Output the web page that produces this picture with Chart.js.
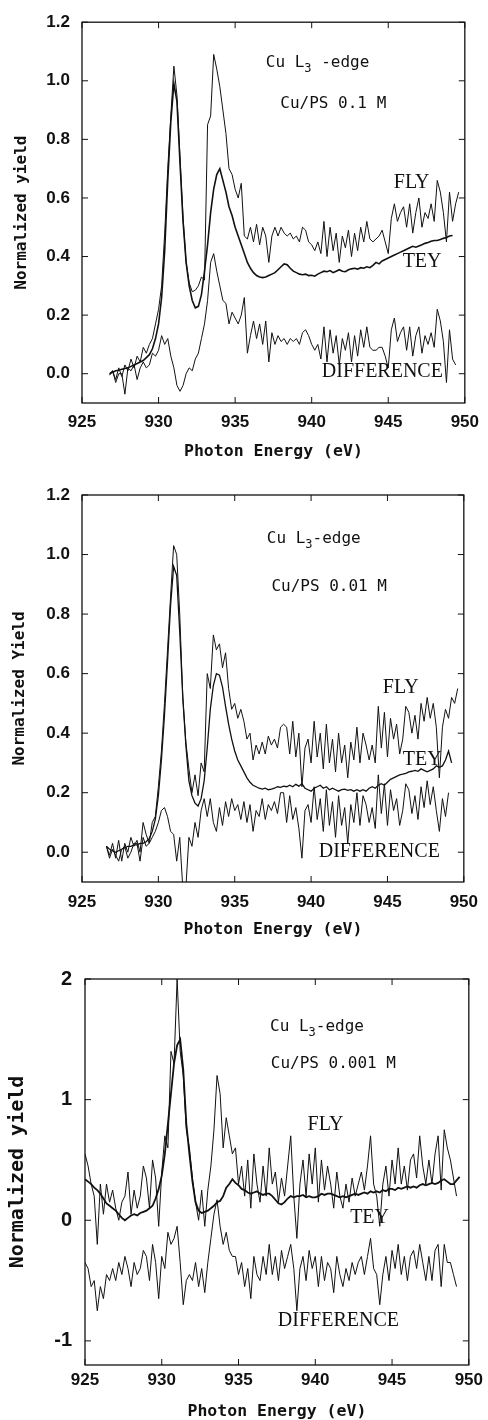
<!DOCTYPE html>
<html>
<head>
<meta charset="utf-8">
<script src="https://cdn.jsdelivr.net/npm/chart.js@4.4.1/dist/chart.umd.min.js"></script>
<style>
  body { margin: 0; background: #fff; }
  .panel { position: absolute; left: 0; width: 488px; }
</style>
</head>
<body>
<div class="panel" style="top:0;height:470px"><canvas id="c1" width="488" height="470"></canvas></div>
<div class="panel" style="top:470px;height:470px"><canvas id="c2" width="488" height="470"></canvas></div>
<div class="panel" style="top:940px;height:480px"><canvas id="c3" width="488" height="480"></canvas></div>
<script>
// ---- panel 1: Cu/PS 0.1 M ----
const energy1 = [
  926.8, 927.0, 927.2, 927.4, 927.6, 927.8, 928.0, 928.2, 928.4, 928.6,
  928.8, 929.0, 929.2, 929.4, 929.6, 929.8, 930.0, 930.2, 930.4, 930.6,
  930.8, 931.0, 931.2, 931.4, 931.6, 931.8, 932.0, 932.2, 932.4, 932.6,
  932.8, 933.0, 933.2, 933.4, 933.6, 933.8, 934.0, 934.2, 934.4, 934.6,
  934.8, 935.0, 935.2, 935.4, 935.6, 935.8, 936.0, 936.2, 936.4, 936.6,
  936.8, 937.0, 937.2, 937.4, 937.6, 937.8, 938.0, 938.2, 938.4, 938.6,
  938.8, 939.0, 939.2, 939.4, 939.6, 939.8, 940.0, 940.2, 940.4, 940.6,
  940.8, 941.0, 941.2, 941.4, 941.6, 941.8, 942.0, 942.2, 942.4, 942.6,
  942.8, 943.0, 943.2, 943.4, 943.6, 943.8, 944.0, 944.2, 944.4, 944.6,
  944.8, 945.0, 945.2, 945.4, 945.6, 945.8, 946.0, 946.2, 946.4, 946.6,
  946.8, 947.0, 947.2, 947.4, 947.6, 947.8, 948.0, 948.2, 948.4, 948.6,
  948.8, 949.0, 949.2, 949.4, 949.6
];
const fly1 = [
  -0.005, 0.01, -0.02, 0.02, -0.01, 0.03, 0.01, 0.05, 0.02, 0.06,
  0.04, 0.09, 0.07, 0.10, 0.12, 0.17, 0.22, 0.30, 0.48, 0.70,
  0.88, 1.05, 0.95, 0.74, 0.53, 0.38, 0.31, 0.28, 0.285, 0.30,
  0.33, 0.32, 0.85, 0.88, 1.09, 1.04, 0.98, 0.90, 0.82, 0.70,
  0.68, 0.63, 0.60, 0.65, 0.47, 0.46, 0.50, 0.45, 0.51, 0.44,
  0.50, 0.47, 0.38, 0.47, 0.50, 0.47, 0.50, 0.48, 0.47, 0.48,
  0.46, 0.47, 0.45, 0.50, 0.49, 0.45, 0.44, 0.42, 0.45, 0.41,
  0.52, 0.40, 0.50, 0.42, 0.48, 0.38, 0.47, 0.43, 0.49, 0.40,
  0.48, 0.42, 0.50, 0.45, 0.52, 0.46, 0.45, 0.46, 0.47, 0.49,
  0.45, 0.41, 0.53, 0.58, 0.52, 0.55, 0.57, 0.50, 0.58, 0.48,
  0.55, 0.60, 0.50, 0.55, 0.53, 0.58, 0.52, 0.66, 0.62, 0.55,
  0.45, 0.62, 0.52, 0.58, 0.62
];
const tey1 = [
  0.0, 0.005, 0.01, 0.012, 0.015, 0.018, 0.02, 0.025, 0.03, 0.035,
  0.04, 0.045, 0.055, 0.065, 0.085, 0.12, 0.17, 0.26, 0.42, 0.66,
  0.86, 0.99, 0.93, 0.72, 0.52, 0.38, 0.30, 0.25, 0.225, 0.23,
  0.27, 0.35, 0.44, 0.55, 0.63, 0.68, 0.70, 0.66, 0.62, 0.57,
  0.54, 0.50, 0.47, 0.44, 0.41, 0.38, 0.36, 0.345, 0.335, 0.33,
  0.328, 0.33, 0.335, 0.34, 0.345, 0.355, 0.365, 0.375, 0.372, 0.36,
  0.35, 0.345, 0.34, 0.338, 0.34, 0.335, 0.336, 0.333, 0.34, 0.345,
  0.35, 0.348, 0.352, 0.345, 0.35, 0.355, 0.35, 0.348, 0.355, 0.358,
  0.36, 0.357, 0.362, 0.36, 0.365, 0.362, 0.37, 0.38, 0.375, 0.385,
  0.39, 0.395, 0.40, 0.405, 0.41, 0.415, 0.42, 0.425, 0.43, 0.435,
  0.432, 0.436, 0.44, 0.445, 0.448, 0.452, 0.455, 0.455, 0.458, 0.462,
  0.465, 0.47, 0.472, null, null
];
const diff1 = [
  0.0, 0.01, -0.03, 0.0, 0.0, -0.07, 0.02, 0.01, 0.03, -0.02,
  0.02, 0.04, 0.02, 0.03, 0.07, 0.06, 0.08, 0.13, 0.10, 0.12,
  0.06, 0.02, -0.04, -0.06, -0.04, 0.00, 0.02, 0.01, 0.05, 0.07,
  0.12, 0.17, 0.25, 0.38, 0.41, 0.35, 0.30, 0.25, 0.24, 0.17,
  0.21, 0.19, 0.17, 0.20, 0.26, 0.07, 0.13, 0.18, 0.12, 0.17,
  0.10, 0.18, 0.04, 0.14, 0.10, 0.13, 0.11, 0.12, 0.10, 0.12,
  0.11, 0.12, 0.10, 0.14, 0.15, 0.13, 0.10, 0.08, 0.10, 0.05,
  0.16, 0.04, 0.15, 0.07, 0.13, 0.03, 0.12, 0.08, 0.14, 0.04,
  0.13, 0.06, 0.15, 0.09, 0.16, 0.09, 0.08, 0.08, 0.09, 0.09,
  0.06, 0.02, 0.15, 0.19, 0.11, 0.14, 0.16, 0.08, 0.16, 0.06,
  0.13, 0.16, 0.07, 0.13, 0.10, 0.14, 0.09, 0.22, 0.18, 0.11,
  -0.03, 0.15, 0.05, 0.03, null
];

// ---- panel 2: Cu/PS 0.01 M ----
const energy2 = [
  926.6, 926.8, 927.0, 927.2, 927.4, 927.6, 927.8, 928.0, 928.2, 928.4,
  928.6, 928.8, 929.0, 929.2, 929.4, 929.6, 929.8, 930.0, 930.2, 930.4,
  930.6, 930.8, 931.0, 931.2, 931.4, 931.6, 931.8, 932.0, 932.2, 932.4,
  932.6, 932.8, 933.0, 933.2, 933.4, 933.6, 933.8, 934.0, 934.2, 934.4,
  934.6, 934.8, 935.0, 935.2, 935.4, 935.6, 935.8, 936.0, 936.2, 936.4,
  936.6, 936.8, 937.0, 937.2, 937.4, 937.6, 937.8, 938.0, 938.2, 938.4,
  938.6, 938.8, 939.0, 939.2, 939.4, 939.6, 939.8, 940.0, 940.2, 940.4,
  940.6, 940.8, 941.0, 941.2, 941.4, 941.6, 941.8, 942.0, 942.2, 942.4,
  942.6, 942.8, 943.0, 943.2, 943.4, 943.6, 943.8, 944.0, 944.2, 944.4,
  944.6, 944.8, 945.0, 945.2, 945.4, 945.6, 945.8, 946.0, 946.2, 946.4,
  946.6, 946.8, 947.0, 947.2, 947.4, 947.6, 947.8, 948.0, 948.2, 948.4,
  948.6, 948.8, 949.0, 949.2, 949.4, 949.6
];
const fly2 = [
  0.02, -0.01, 0.03, -0.02, 0.04, -0.03, 0.03, 0.0, 0.05, 0.02,
  0.04, 0.0, 0.10, 0.06, 0.03, 0.10, 0.12, 0.22, 0.34, 0.50,
  0.68, 0.86, 1.03, 1.00, 0.80, 0.52, 0.37, 0.28, 0.20, 0.26,
  0.19, 0.30, 0.27, 0.60, 0.55, 0.73, 0.68, 0.70, 0.62, 0.67,
  0.55, 0.48, 0.50, 0.45, 0.48, 0.44, 0.38, 0.40, 0.31, 0.36,
  0.33, 0.37, 0.33, 0.39, 0.36, 0.38, 0.35, 0.42, 0.43, 0.42,
  0.33, 0.44, 0.32, 0.40, 0.22, 0.35, 0.38, 0.30, 0.44, 0.32,
  0.40, 0.28, 0.43, 0.30, 0.38, 0.27, 0.40, 0.30, 0.36, 0.25,
  0.37, 0.31, 0.42, 0.30, 0.40, 0.36, 0.31, 0.36, 0.30, 0.49,
  0.35, 0.47, 0.32, 0.45, 0.38, 0.43, 0.33, 0.38, 0.49, 0.47,
  0.40, 0.46, 0.38, 0.50, 0.44, 0.52, 0.45, 0.50, 0.42, 0.25,
  0.42, 0.48, 0.45, 0.52, 0.50, 0.55
];
const tey2 = [
  0.02, 0.01, 0.005, 0.0, 0.005, 0.01, 0.015, 0.02, 0.02, 0.025,
  0.025, 0.03, 0.03, 0.035, 0.045, 0.07, 0.11, 0.19, 0.31, 0.46,
  0.64, 0.83, 0.96, 0.93, 0.74, 0.52, 0.36, 0.24, 0.19, 0.165,
  0.155, 0.18, 0.24, 0.35, 0.48, 0.56, 0.60, 0.595, 0.555, 0.49,
  0.43, 0.38, 0.34, 0.31, 0.29, 0.27, 0.25, 0.235, 0.225, 0.22,
  0.215, 0.212, 0.215, 0.21, 0.212, 0.215, 0.22, 0.218, 0.222, 0.22,
  0.225, 0.22, 0.228, 0.222, 0.23, 0.215, 0.21, 0.205, 0.215, 0.22,
  0.225, 0.215, 0.22, 0.21, 0.215, 0.21, 0.205, 0.21, 0.212, 0.208,
  0.21, 0.205, 0.21, 0.205, 0.21, 0.205, 0.215, 0.22, 0.215, 0.225,
  0.23, 0.225, 0.235, 0.245, 0.25, 0.255, 0.26, 0.262, 0.265, 0.27,
  0.272, 0.275, 0.272, 0.28, 0.275, 0.27, 0.275, 0.28, 0.29, 0.285,
  0.29, 0.31, 0.34, 0.30, null, null
];
const diff2 = [
  0.02, -0.02, 0.01, -0.01, -0.03, 0.01, 0.02, -0.02, 0.0, 0.03,
  0.03, -0.03, 0.05, 0.02, 0.03, 0.05, 0.07, 0.10, 0.14, 0.15,
  0.12, 0.07, 0.06, -0.03, 0.05, -0.12, -0.12, 0.05, 0.02, 0.10,
  0.05, 0.14, 0.18, 0.12, 0.18, 0.10, 0.07, 0.15, 0.09, 0.17,
  0.12, 0.18, 0.14, 0.16, 0.11, 0.17, 0.10, 0.16, 0.07, 0.14,
  0.12, 0.18, 0.11, 0.16, 0.14, 0.17, 0.13, 0.20, 0.20, 0.10,
  0.19, 0.11, 0.15, 0.08, -0.02, 0.14, 0.16, 0.10, 0.22, 0.11,
  0.18, 0.07, 0.21, 0.09, 0.17, 0.05, 0.19, 0.09, 0.15, 0.03,
  0.16, 0.10, 0.20, 0.09, 0.19, 0.16, 0.10, 0.15, 0.08, 0.26,
  0.13, 0.23, 0.09, 0.21, 0.14, 0.18, 0.09, 0.14, 0.23, 0.21,
  0.13, 0.19, 0.11, 0.22, 0.15, 0.24, 0.16, 0.22, 0.14, 0.07,
  0.18, 0.12, 0.20, null, null, null
];

// ---- panel 3: Cu/PS 0.001 M ----
const energy3 = [
  925.0, 925.2, 925.4, 925.6, 925.8, 926.0, 926.2, 926.4, 926.6, 926.8,
  927.0, 927.2, 927.4, 927.6, 927.8, 928.0, 928.2, 928.4, 928.6, 928.8,
  929.0, 929.2, 929.4, 929.6, 929.8, 930.0, 930.2, 930.4, 930.6, 930.8,
  931.0, 931.2, 931.4, 931.6, 931.8, 932.0, 932.2, 932.4, 932.6, 932.8,
  933.0, 933.2, 933.4, 933.6, 933.8, 934.0, 934.2, 934.4, 934.6, 934.8,
  935.0, 935.2, 935.4, 935.6, 935.8, 936.0, 936.2, 936.4, 936.6, 936.8,
  937.0, 937.2, 937.4, 937.6, 937.8, 938.0, 938.2, 938.4, 938.6, 938.8,
  939.0, 939.2, 939.4, 939.6, 939.8, 940.0, 940.2, 940.4, 940.6, 940.8,
  941.0, 941.2, 941.4, 941.6, 941.8, 942.0, 942.2, 942.4, 942.6, 942.8,
  943.0, 943.2, 943.4, 943.6, 943.8, 944.0, 944.2, 944.4, 944.6, 944.8,
  945.0, 945.2, 945.4, 945.6, 945.8, 946.0, 946.2, 946.4, 946.6, 946.8,
  947.0, 947.2, 947.4, 947.6, 947.8, 948.0, 948.2, 948.4, 948.6, 948.8,
  949.0, 949.2, 949.4
];
const fly3 = [
  0.55, 0.45, 0.30, 0.20, -0.20, 0.30, 0.05, 0.30, 0.15, 0.25,
  0.10, 0.00, 0.15, 0.20, 0.40, 0.05, 0.25, 0.10, 0.20, 0.45,
  0.35, 0.10, 0.50, 0.35, -0.05, 0.40, 0.70, 0.60, 1.40, 1.30,
  2.00, 1.40, 1.20, 0.75, 0.60, 0.35, 0.15, 0.00, 0.25, -0.05,
  0.25, 0.45, 0.75, 1.20, 1.05, 0.60, 0.85, 0.70, 0.55, 0.60,
  0.30, 0.45, 0.20, 0.50, 0.10, 0.55, 0.30, 0.15, 0.45, 0.20,
  0.60, 0.30, 0.40, 0.15, 0.35, 0.20, 0.45, 0.70, 0.20, -0.15,
  0.30, 0.50, 0.20, 0.55, 0.30, 0.60, 0.15, 0.50, 0.25, 0.45,
  0.30, 0.10, 0.40, 0.20, 0.10, 0.30, 0.15, 0.35, 0.20, 0.30,
  0.40, 0.25, 0.45, 0.70, 0.30, 0.20, -0.05, 0.30, 0.45, 0.20,
  0.50, 0.30, 0.60, 0.30, 0.45, 0.25, 0.50, 0.55, 0.35, 0.70,
  0.45, 0.30, 0.50, 0.30, 0.55, 0.70, 0.25, 0.75, 0.60, 0.50,
  0.35, 0.20, null
];
const tey3 = [
  0.34, 0.32, 0.30, 0.27, 0.25, 0.22, 0.18, 0.14, 0.12, 0.10,
  0.08, 0.05, 0.02, 0.0, 0.02, 0.04, 0.05, 0.04, 0.06, 0.07,
  0.08, 0.10, 0.12, 0.18, 0.26, 0.37, 0.55, 0.80, 1.05, 1.30,
  1.45, 1.50, 1.25, 0.80, 0.55, 0.32, 0.15, 0.08, 0.06, 0.07,
  0.08, 0.10, 0.12, 0.15, 0.16, 0.20, 0.27, 0.30, 0.34, 0.31,
  0.29, 0.26, 0.25, 0.23, 0.22, 0.23, 0.24, 0.22, 0.21, 0.22,
  0.22, 0.20, 0.17, 0.14, 0.13, 0.15, 0.18, 0.20, 0.19, 0.20,
  0.20, 0.21, 0.19, 0.20, 0.19, 0.19, 0.20, 0.22, 0.21, 0.22,
  0.22, 0.21, 0.20, 0.19, 0.20, 0.19, 0.20, 0.21, 0.22, 0.21,
  0.22, 0.23, 0.22, 0.24, 0.23, 0.24, 0.23, 0.25, 0.24, 0.26,
  0.26, 0.25, 0.27, 0.26, 0.27, 0.28, 0.27, 0.28, 0.27, 0.29,
  0.30, 0.29, 0.30, 0.31, 0.30, 0.31, 0.33, 0.34, 0.32, 0.30,
  0.30, 0.33, 0.36
];
const diff3 = [
  -0.35, -0.40, -0.55, -0.50, -0.75, -0.55, -0.65, -0.45, -0.50, -0.40,
  -0.50, -0.35, -0.45, -0.30, -0.40, -0.55, -0.35, -0.45, -0.40, -0.25,
  -0.30, -0.50, -0.20, -0.35, -0.65, -0.30, -0.40, -0.10, -0.20, -0.15,
  -0.05, -0.35, -0.70, -0.50, -0.45, -0.50, -0.35, -0.55, -0.40, -0.60,
  -0.35, -0.15, 0.05, 0.17, -0.05, -0.20, -0.10, -0.25, -0.30, -0.30,
  -0.45, -0.35, -0.55, -0.40, -0.65, -0.30, -0.45, -0.50, -0.30, -0.45,
  -0.20, -0.45, -0.30, -0.50, -0.25, -0.40, -0.30, -0.20, -0.40, -0.75,
  -0.40, -0.30, -0.50, -0.25, -0.40, -0.30, -0.55, -0.30, -0.50, -0.35,
  -0.40, -0.60, -0.30, -0.45, -0.55, -0.40, -0.50, -0.35, -0.45, -0.35,
  -0.30, -0.45, -0.30, -0.15, -0.40, -0.45, -0.70, -0.45, -0.30, -0.50,
  -0.25, -0.40, -0.20, -0.45, -0.30, -0.50, -0.30, -0.25, -0.40, -0.20,
  -0.35, -0.50, -0.30, -0.50, -0.25, -0.20, -0.55, -0.20, -0.35, -0.35,
  -0.45, -0.55, null
];

// text placed in data coordinates
const notes1 = [
  { text: 'Cu L', sub: '3', rest: ' -edge', x: 937.0, y: 1.062 },
  { text: 'Cu/PS 0.1 M', x: 937.95, y: 0.921 },
  { text: 'FLY', x: 945.36, y: 0.652, serif: true },
  { text: 'TEY', x: 945.94, y: 0.383, serif: true },
  { text: 'DIFFERENCE', x: 940.66, y: 0.007, serif: true }
];
const notes2 = [
  { text: 'Cu L', sub: '3', rest: '-edge', x: 937.1, y: 1.054 },
  { text: 'Cu/PS 0.01 M', x: 937.4, y: 0.892 },
  { text: 'FLY', x: 944.7, y: 0.553, serif: true },
  { text: 'TEY', x: 946.0, y: 0.31, serif: true },
  { text: 'DIFFERENCE', x: 940.5, y: 0.0, serif: true }
];
const notes3 = [
  { text: 'Cu L', sub: '3', rest: '-edge', x: 937.05, y: 1.607 },
  { text: 'Cu/PS 0.001 M', x: 937.1, y: 1.30 },
  { text: 'FLY', x: 939.5, y: 0.79, serif: true },
  { text: 'TEY', x: 942.27, y: 0.02, serif: true },
  { text: 'DIFFERENCE', x: 937.56, y: -0.83, serif: true }
];

const INK = '#111';

function pts(xs, ys) {
  return xs.map((x, i) => ({ x: x, y: ys[i] }));
}

const framePlugin = {
  id: 'frame',
  afterDatasetsDraw(chart, args, opts) {
    const ctx = chart.ctx;
    const a = chart.chartArea;
    const xs = chart.scales.x, ys = chart.scales.y;
    ctx.save();
    ctx.strokeStyle = INK;
    ctx.lineWidth = 1.3;
    ctx.strokeRect(a.left, a.top, a.right - a.left, a.bottom - a.top);
    ctx.lineWidth = 1;
    ctx.beginPath();
    xs.ticks.forEach(t => {
      const px = xs.getPixelForValue(t.value);
      ctx.moveTo(px, a.bottom); ctx.lineTo(px, a.bottom - 6);
      ctx.moveTo(px, a.top); ctx.lineTo(px, a.top + 6);
    });
    ys.ticks.forEach(t => {
      const py = ys.getPixelForValue(t.value);
      ctx.moveTo(a.left, py); ctx.lineTo(a.left + 6, py);
      ctx.moveTo(a.right, py); ctx.lineTo(a.right - 6, py);
    });
    ctx.stroke();

    ctx.fillStyle = INK;
    ctx.textAlign = 'left';
    ctx.textBaseline = 'middle';
    const mono = '16px "DejaVu Sans Mono"';
    (opts.notes || []).forEach(n => {
      const px = xs.getPixelForValue(n.x);
      const py = ys.getPixelForValue(n.y);
      ctx.font = n.serif ? '20px "Liberation Serif"' : mono;
      ctx.fillText(n.text, px, py);
      if (n.sub) {
        let w = ctx.measureText(n.text).width;
        ctx.font = '12px "DejaVu Sans Mono"';
        ctx.fillText(n.sub, px + w, py + 6);
        w += ctx.measureText(n.sub).width;
        ctx.font = mono;
        ctx.fillText(n.rest, px + w, py);
      }
    });
    ctx.restore();
  }
};

function makeChart(id, p) {
  const tickFont = { family: 'Liberation Sans', weight: 'bold', size: p.tickSize };
  const ds = (label, ys, width) => ({
    label: label,
    data: pts(p.energy, ys),
    borderColor: INK,
    borderWidth: width,
    pointRadius: 0,
    tension: 0,
    spanGaps: false
  });
  new Chart(document.getElementById(id), {
    type: 'line',
    data: {
      datasets: [
        ds('FLY', p.fly, 1),
        ds('TEY', p.tey, p.teyWidth),
        ds('DIFFERENCE', p.diff, 1)
      ]
    },
    options: {
      responsive: false,
      animation: false,
      events: [],
      layout: { padding: { left: 0, top: p.top, right: p.right, bottom: 0 } },
      plugins: {
        legend: { display: false },
        tooltip: { enabled: false },
        frame: { notes: p.notes }
      },
      scales: {
        x: {
          type: 'linear',
          min: 925,
          max: 950,
          afterFit: s => { s.height = p.xHeight; },
          grid: { display: false, drawTicks: false },
          border: { display: false },
          ticks: { stepSize: 5, padding: p.xPad, color: INK, font: tickFont, maxRotation: 0, autoSkip: false },
          title: {
            display: true,
            text: 'Photon Energy (eV)',
            color: INK,
            font: { family: 'DejaVu Sans Mono', weight: 'bold', size: 16.5, lineHeight: 1 },
            padding: { top: 0, bottom: p.xTitlePad }
          }
        },
        y: {
          min: p.yMin,
          max: p.yMax,
          afterFit: s => { s.width = p.yWidth; },
          grid: { display: false, drawTicks: false },
          border: { display: false },
          ticks: {
            stepSize: p.yStep,
            includeBounds: false,
            padding: p.yPad,
            color: INK,
            font: { family: 'Liberation Sans', weight: 'bold', size: p.yTickSize },
            callback: v => p.yStep < 1 ? v.toFixed(1) : String(v)
          },
          title: {
            display: true,
            text: p.yTitle,
            color: INK,
            font: { family: 'DejaVu Sans Mono', weight: 'bold', size: p.yTitleSize, lineHeight: 1 },
            padding: { top: p.yTitlePad, bottom: 0 }
          }
        }
      }
    },
    plugins: [framePlugin]
  });
}

makeChart('c1', {
  energy: energy1, fly: fly1, tey: tey1, diff: diff1, notes: notes1, teyWidth: 1.6,
  top: 17, right: 18, xHeight: 67, yWidth: 82,
  yMin: -0.1, yMax: 1.2, yStep: 0.2,
  tickSize: 17, yTickSize: 17, xPad: 9, yPad: 12, xTitlePad: 10,
  yTitle: 'Normalized yield', yTitleSize: 16, yTitlePad: 14
});
makeChart('c2', {
  energy: energy2, fly: fly2, tey: tey2, diff: diff2, notes: notes2, teyWidth: 1.3,
  top: 25, right: 18, xHeight: 58, yWidth: 82,
  yMin: -0.1, yMax: 1.2, yStep: 0.2,
  tickSize: 17, yTickSize: 17, xPad: 10, yPad: 12, xTitlePad: 2,
  yTitle: 'Normalized Yield', yTitleSize: 16, yTitlePad: 12
});
makeChart('c3', {
  energy: energy3, fly: fly3, tey: tey3, diff: diff3, notes: notes3, teyWidth: 1.8,
  top: 39, right: 15, xHeight: 55, yWidth: 85,
  yMin: -1.2, yMax: 2, yStep: 1,
  tickSize: 17, yTickSize: 20, xPad: 5, yPad: 13, xTitlePad: 0,
  yTitle: 'Normalized yield', yTitleSize: 20, yTitlePad: 8
});
</script>
</body>
</html>
